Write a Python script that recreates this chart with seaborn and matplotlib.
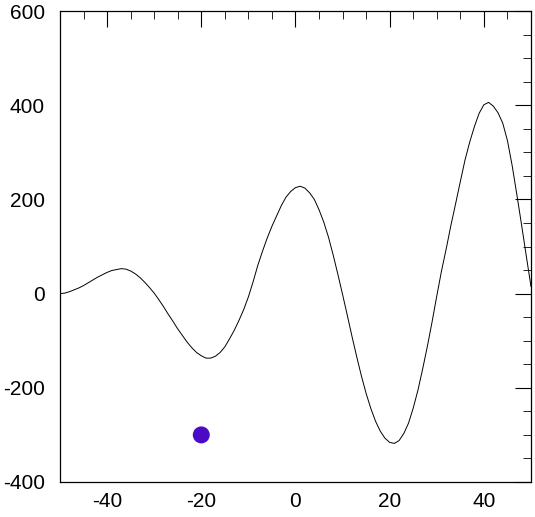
import matplotlib
matplotlib.use("Agg")
import matplotlib.pyplot as plt
from matplotlib.ticker import MultipleLocator
import seaborn as sns
import pandas as pd

# curve, one value per unit of x
curve_x = list(range(-50, 51))
curve_y = [0, 1, 4, 8, 12, 17, 23, 29, 35, 40,            # -50 .. -41
           45, 49, 51, 53, 52, 48, 42, 34, 24, 13,        # -40 .. -31
           1, -13, -28, -44, -59, -75, -89, -103, -115, -125,   # -30 .. -21
           -132, -137, -137, -133, -125, -113, -96, -78, -57, -34,  # -20 .. -11
           -7, 25, 60, 90, 118, 143, 165, 187, 205, 217,  # -10 .. -1
           225, 228, 224, 214, 200, 178, 152, 120, 82, 41,  # 0 .. 9
           -2, -46, -91, -134, -175, -212, -244, -271, -292, -307,  # 10 .. 19
           -316, -318, -312, -297, -275, -243, -205, -160, -112, -60,  # 20 .. 29
           -5, 48, 95, 145, 191, 238, 284, 322, 355, 383,  # 30 .. 39
           401, 406, 398, 384, 362, 325, 272, 210, 146, 80,  # 40 .. 49
           15]                                            # 50

# single marker
dot_x = [-20]
dot_y = [-300]

df = pd.DataFrame({"x": curve_x, "y": curve_y})

sns.set_theme(style="white")
plt.rcParams["font.family"] = ["Liberation Sans", "DejaVu Sans"]
plt.rcParams["axes.unicode_minus"] = False

fig = plt.figure(figsize=(5.35, 5.17), dpi=100)
ax = fig.add_axes([0.1121, 0.0677, 0.8804, 0.911])

sns.lineplot(data=df, x="x", y="y", color="black", linewidth=0.7, ax=ax)
sns.scatterplot(x=dot_x, y=dot_y, color="#4B0BC6", s=150, edgecolor="none", ax=ax)

ax.set_xlim(-50, 50)
ax.set_ylim(-400, 600)
ax.xaxis.set_major_locator(MultipleLocator(20))
ax.xaxis.set_minor_locator(MultipleLocator(5))
ax.yaxis.set_major_locator(MultipleLocator(200))
ax.yaxis.set_minor_locator(MultipleLocator(50))
ax.set_xlabel("")
ax.set_ylabel("")

ax.tick_params(which="both", direction="in", top=True, right=True, colors="black")
ax.tick_params(which="major", length=11.5, width=0.8, labelsize=15)
ax.tick_params(which="minor", length=5.8, width=0.6)
ax.tick_params(axis="x", which="major", pad=7)
ax.tick_params(axis="y", which="major", pad=11)

for sp in ax.spines.values():
    sp.set_visible(True)
    sp.set_color("black")
    sp.set_linewidth(0.9)

fig.savefig("out.png", dpi=100)
